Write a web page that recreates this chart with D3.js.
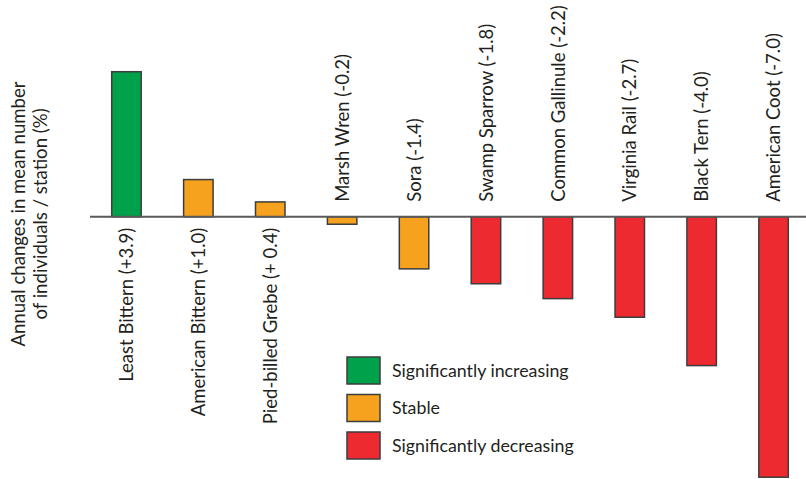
<!DOCTYPE html>
<html>
<head>
<meta charset="utf-8">
<script src="https://cdn.jsdelivr.net/npm/d3@7"></script>
<style>
  html, body { margin: 0; padding: 0; background: #fff; }
  svg { display: block; }
  text { font-family: "Lato", "Liberation Sans", sans-serif; fill: #231f20; }
</style>
</head>
<body>
<svg id="chart" width="806" height="479"></svg>
<script>
// ---- data ----
const species = ["Least Bittern", "American Bittern", "Pied-billed Grebe", "Marsh Wren", "Sora",
                 "Swamp Sparrow", "Common Gallinule", "Virginia Rail", "Black Tern", "American Coot"];
const labels = ["Least Bittern (+3.9)", "American Bittern (+1.0)", "Pied-billed Grebe (+ 0.4)",
                "Marsh Wren (-0.2)", "Sora (-1.4)", "Swamp Sparrow (-1.8)", "Common Gallinule (-2.2)",
                "Virginia Rail (-2.7)", "Black Tern (-4.0)", "American Coot (-7.0)"];
const changes = [3.9, 1.0, 0.4, -0.2, -1.4, -1.8, -2.2, -2.7, -4.0, -7.0];
const status = ["increasing", "stable", "stable", "stable", "stable",
                "decreasing", "decreasing", "decreasing", "decreasing", "decreasing"];
const legendKeys = ["increasing", "stable", "decreasing"];
const legendLabels = ["Significantly increasing", "Stable", "Significantly decreasing"];
const yTitle = ["Annual changes in mean number", "of individuals / station (%)"];

const colors = { increasing: "#00a14b", stable: "#f7a21e", decreasing: "#ed2a30" };

const svg = d3.select("#chart");

const x = d3.scaleBand().domain(species).range([111.7, 788.3]).paddingInner(0.59).paddingOuter(0);
const y = d3.scaleLinear().domain([-7, 3.9]).range([477.2, 71.7]);

// bars
svg.append("g").selectAll("rect").data(species).join("rect")
  .attr("x", d => x(d))
  .attr("width", x.bandwidth())
  .attr("y", (d, i) => y(Math.max(0, changes[i])))
  .attr("height", (d, i) => Math.abs(y(changes[i]) - y(0)))
  .attr("fill", (d, i) => colors[status[i]])
  .attr("stroke", "#3d3d3d")
  .attr("stroke-width", 1.5);

// zero line
svg.append("line")
  .attr("x1", 90).attr("x2", 806)
  .attr("y1", y(0)).attr("y2", y(0))
  .attr("stroke", "#5a5a5a").attr("stroke-width", 2);

// category labels
svg.append("g").selectAll("text").data(species).join("text")
  .attr("transform", (d, i) => {
    const cx = x(d) + x.bandwidth() / 2;
    const yy = changes[i] > 0 ? y(0) + 11 : y(0) - 15;
    return `translate(${cx},${yy}) rotate(-90)`;
  })
  .attr("dy", "0.36em")
  .attr("text-anchor", (d, i) => changes[i] > 0 ? "end" : "start")
  .style("font-size", "18.5px")
  .text((d, i) => labels[i]);

// y title
svg.append("g").selectAll("text").data(yTitle).join("text")
  .attr("transform", (d, i) => `translate(${25 + i * 22},214) rotate(-90)`)
  .attr("text-anchor", "middle")
  .style("font-size", "18.6px")
  .text(d => d);

// legend
const leg = svg.append("g").selectAll("g").data(legendKeys).join("g")
  .attr("transform", (d, i) => `translate(347,${357 + i * 37.5})`);
leg.append("rect")
  .attr("width", 33).attr("height", 27)
  .attr("fill", d => colors[d])
  .attr("stroke", "#3d3d3d").attr("stroke-width", 1.5);
leg.append("text")
  .attr("x", 45).attr("y", 13.5).attr("dy", "0.35em")
  .style("font-size", "17.8px")
  .text((d, i) => legendLabels[i]);
</script>
</body>
</html>
